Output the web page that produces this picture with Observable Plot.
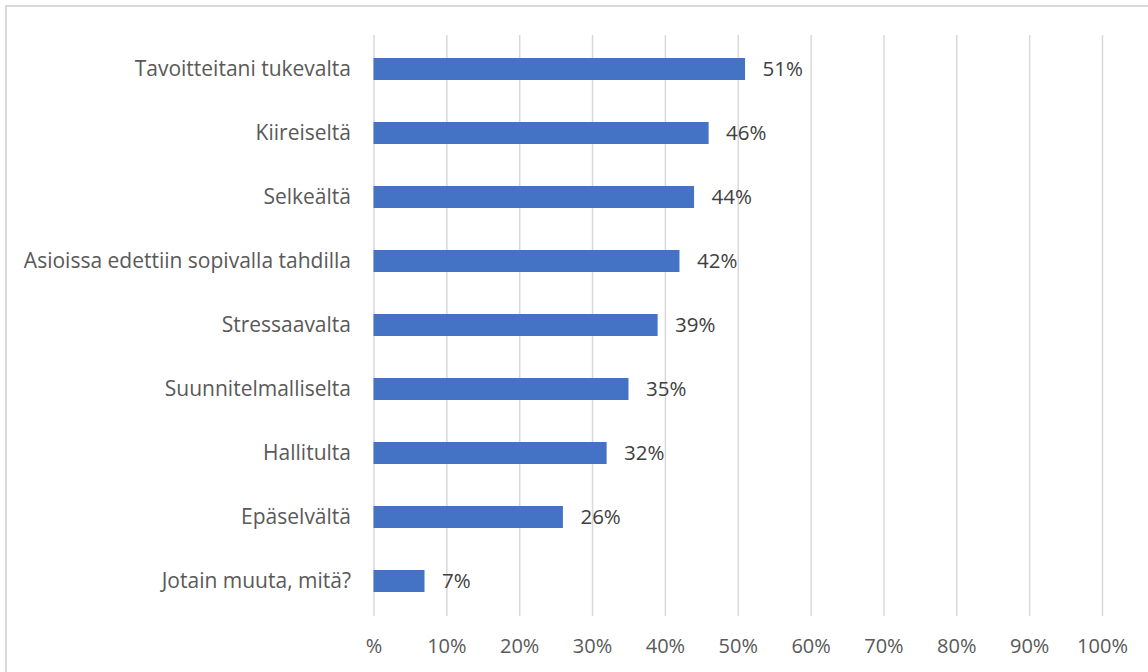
<!DOCTYPE html>
<html>
<head>
<meta charset="utf-8">
<script src="https://cdn.jsdelivr.net/npm/d3@7"></script>
<script src="https://cdn.jsdelivr.net/npm/@observablehq/plot@0.6"></script>
<style>
  html, body { margin: 0; padding: 0; background: #fff; }
  #wrap { position: relative; width: 1148px; height: 672px; overflow: hidden; }
  #border { position: absolute; left: 5px; top: 5px; width: 1160px; height: 680px; border: 2px solid #d9d9d9; box-sizing: border-box; pointer-events: none; }
</style>
</head>
<body>
<div id="wrap"><div id="border"></div></div>
<script>
const categories = [
  "Tavoitteitani tukevalta",
  "Kiireiseltä",
  "Selkeältä",
  "Asioissa edettiin sopivalla tahdilla",
  "Stressaavalta",
  "Suunnitelmalliselta",
  "Hallitulta",
  "Epäselvältä",
  "Jotain muuta, mitä?"
];
const values = [51, 46, 44, 42, 39, 35, 32, 26, 7];
const xTicks = [0, 10, 20, 30, 40, 50, 60, 70, 80, 90, 100];

const data = categories.map((c, i) => ({category: c, value: values[i]}));
const fmt = d => d === 0 ? "%" : d + "%";

const chart = Plot.plot({
  width: 1148,
  height: 672,
  marginLeft: 373.5,
  marginRight: 46,
  marginTop: 35,
  marginBottom: 56,
  style: {fontFamily: "'Open Sans', sans-serif", fontSize: "20px", background: "transparent"},
  x: {domain: [0, 100], ticks: xTicks, tickFormat: fmt, label: null},
  y: {domain: categories, label: null, paddingInner: 0.65, paddingOuter: 0.325},
  marks: [
    Plot.ruleX(xTicks, {stroke: "#d9d9d9", strokeWidth: 1.5}),
    Plot.barX(data, {x: "value", y: "category", fill: "#4472c4"}),
    Plot.text(data, {x: "value", y: "category", text: d => d.value + "%", textAnchor: "start", dx: 17, fill: "#404040", fontSize: 20.5}),
    Plot.axisX({ticks: xTicks, tickFormat: fmt, tickSize: 0, tickPadding: 22, color: "#595959", label: null, fontSize: 20}),
    Plot.axisY({tickSize: 0, tickPadding: 23, color: "#595959", label: null, fontSize: 21})
  ]
});
document.getElementById("wrap").prepend(chart);
</script>
</body>
</html>
